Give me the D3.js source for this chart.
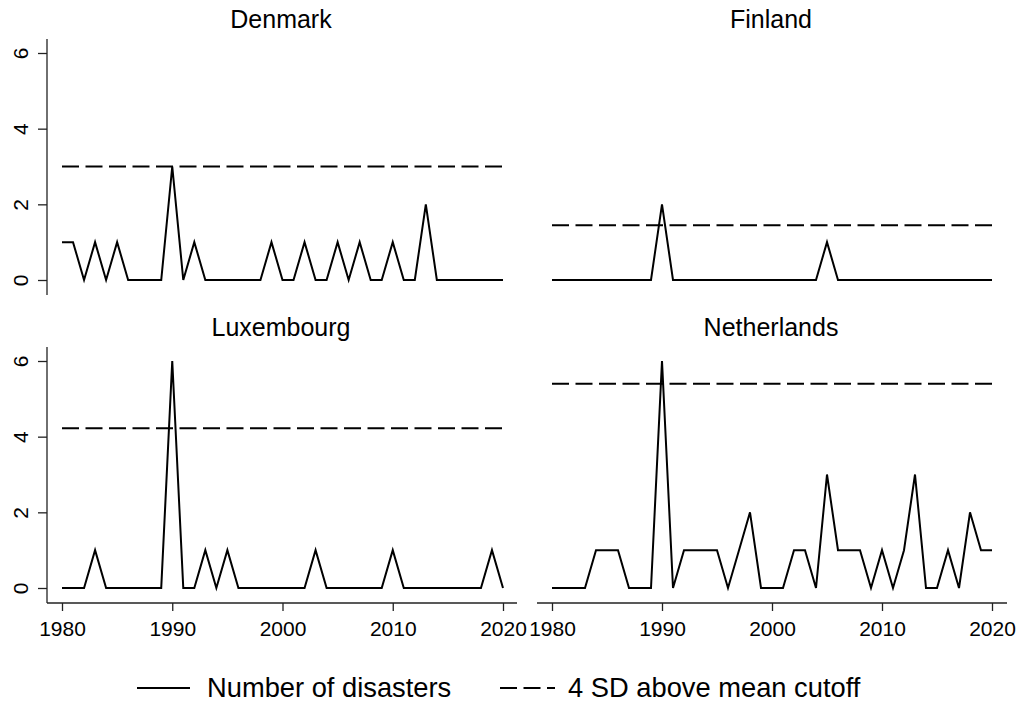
<!DOCTYPE html>
<html>
<head>
<meta charset="utf-8">
<script src="https://cdn.jsdelivr.net/npm/d3@7"></script>
<style>
  body { margin: 0; background: #fff; }
  text { font-family: "Liberation Sans", Arial, Helvetica, sans-serif; fill: #000; }
</style>
</head>
<body>
<div id="chart"></div>
<script>
(function(){
  var width = 1025,
    height = 709;

  // data, one value per year 1980-2020
  var years = d3.range(1980, 2021);
  var countries = ["Denmark", "Finland", "Luxembourg", "Netherlands"];
  var denmark = [1,1,0,1,0,1,0,0,0,0, 3,0,1,0,0,0,0,0,0,1, 0,0,1,0,0,1,0,1,0,0, 1,0,0,2,0,0,0,0,0,0, 0];
  var finland = [0,0,0,0,0,0,0,0,0,0, 2,0,0,0,0,0,0,0,0,0, 0,0,0,0,0,1,0,0,0,0, 0,0,0,0,0,0,0,0,0,0, 0];
  var luxembourg = [0,0,0,1,0,0,0,0,0,0, 6,0,0,1,0,1,0,0,0,0, 0,0,0,1,0,0,0,0,0,0, 1,0,0,0,0,0,0,0,0,1, 0];
  var netherlands = [0,0,0,0,1,1,1,0,0,0, 6,0,1,1,1,1,0,1,2,0, 0,0,1,1,0,3,1,1,1,0, 1,0,1,3,0,0,1,0,2,1, 1];
  var cutoffs = [3.0, 1.45, 4.22, 5.4];
  var series = [denmark, finland, luxembourg, netherlands];
  var xTicks = [1980, 1990, 2000, 2010, 2020];
  var yTicks = [0, 2, 4, 6];
  var legendLabels = ["Number of disasters", "4 SD above mean cutoff"];

  var svg = d3.select("#chart")
    .append("svg")
    .attr("width", width)
    .attr("height", height);

  var panelH = 256;
  // panel placement: col 0 / col 1, row 0 / row 1
  var cols = [{x0: 47, x1: 517, a: 62, b: 503}, {x0: 537, x1: 1007, a: 552, b: 992}];
  var rows = [39, 347];

  var y = d3.scaleLinear().domain([0, 6]).range([panelH - 15, 14]);

  countries.forEach(function(name, i){
    var c = cols[i % 2], r = Math.floor(i / 2);
    var x = d3.scaleLinear().domain([1980, 2020]).range([c.a, c.b]);

    var g = svg.append("g")
      .attr("transform", "translate(0," + rows[r] + ")");

    // title
    g.append("text")
      .attr("x", (c.x0 + c.x1) / 2 - 1)
      .attr("y", -11)
      .attr("text-anchor", "middle")
      .attr("font-size", 25)
      .text(name);

    // y axis only on the left column
    if (i % 2 == 0) {
      var yAxis = g.append("g")
        .attr("transform", "translate(" + c.x0 + ",0)")
        .call(d3.axisLeft(y).tickValues(yTicks).tickSize(9).tickSizeOuter(0).tickFormat(d3.format("d")));
      yAxis.attr("font-size", 21).attr("font-family", null);
      yAxis.select(".domain").remove();
      yAxis.append("line")
        .attr("y1", 0).attr("y2", panelH)
        .attr("stroke", "#222").attr("stroke-width", 1.3);
      yAxis.selectAll(".tick line").attr("stroke", "#222").attr("stroke-width", 1.3);
      yAxis.selectAll(".tick text")
        .attr("x", null).attr("dy", null)
        .attr("text-anchor", "middle")
        .attr("transform", "translate(-19,0) rotate(-90)")
        .attr("fill", "#000");
    }

    // x axis only on the bottom row
    if (r == 1) {
      var xAxis = g.append("g")
        .attr("transform", "translate(0," + panelH + ")")
        .call(d3.axisBottom(x).tickValues(xTicks).tickSize(8).tickSizeOuter(0).tickFormat(d3.format("d")));
      xAxis.attr("font-size", 21).attr("font-family", null);
      xAxis.select(".domain").remove();
      xAxis.append("line")
        .attr("x1", c.x0).attr("x2", c.x1)
        .attr("stroke", "#222").attr("stroke-width", 1.3);
      xAxis.selectAll(".tick line").attr("stroke", "#222").attr("stroke-width", 1.3);
      xAxis.selectAll(".tick text")
        .attr("y", 33).attr("dy", null)
        .attr("fill", "#000");
    }

    // cutoff line
    g.append("line")
      .attr("x1", x(1980)).attr("x2", x(2020))
      .attr("y1", y(cutoffs[i])).attr("y2", y(cutoffs[i]))
      .attr("stroke", "#000")
      .attr("stroke-width", 2)
      .attr("stroke-dasharray", "17,6.5");

    // disasters line
    var line = d3.line()
      .x(function(d, j){ return x(years[j]); })
      .y(function(d){ return y(d); });

    g.append("path")
      .datum(series[i])
      .attr("d", line)
      .attr("fill", "none")
      .attr("stroke", "#000")
      .attr("stroke-width", 2)
      .attr("stroke-linejoin", "miter");
  });

  // legend
  var legend = svg.append("g").attr("transform", "translate(0,688)");
  legend.append("line")
    .attr("x1", 137).attr("x2", 190)
    .attr("stroke", "#000").attr("stroke-width", 2);
  legend.append("text")
    .attr("x", 207).attr("y", 9)
    .attr("font-size", 27.3)
    .text(legendLabels[0]);
  legend.append("line")
    .attr("x1", 500).attr("x2", 555)
    .attr("stroke", "#000").attr("stroke-width", 2)
    .attr("stroke-dasharray", "17,6.5");
  legend.append("text")
    .attr("x", 568).attr("y", 9)
    .attr("font-size", 27.3)
    .text(legendLabels[1]);
})();
</script>
</body>
</html>
